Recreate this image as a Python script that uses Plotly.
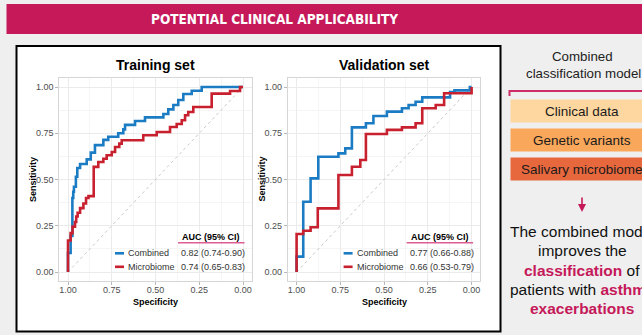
import plotly.graph_objects as go

# ROC curves (specificity, sensitivity) read as step corners
train_combined_spec = [1.0, 0.985, 0.975, 0.970, 0.966, 0.955, 0.947, 0.931, 0.893, 0.870,
                       0.846, 0.798, 0.770, 0.713, 0.684, 0.674, 0.617, 0.560, 0.455, 0.427,
                       0.398, 0.370, 0.341, 0.293, 0.236, 0.0]
train_combined_sens = [0.0, 0.103, 0.195, 0.400, 0.434, 0.461, 0.515, 0.562, 0.584, 0.609,
                       0.645, 0.686, 0.714, 0.731, 0.750, 0.771, 0.795, 0.816, 0.836, 0.854,
                       0.879, 0.903, 0.930, 0.962, 0.980, 1.0]

train_micro_spec = [1.0, 0.985, 0.974, 0.960, 0.953, 0.945, 0.931, 0.912, 0.897, 0.883,
                    0.853, 0.827, 0.798, 0.779, 0.750, 0.731, 0.707, 0.693, 0.570, 0.493,
                    0.417, 0.379, 0.350, 0.331, 0.313, 0.284, 0.179, 0.074, 0.017, 0.0]
train_micro_sens = [0.0, 0.170, 0.210, 0.245, 0.270, 0.300, 0.320, 0.345, 0.370, 0.400,
                    0.410, 0.568, 0.595, 0.612, 0.631, 0.649, 0.676, 0.694, 0.712, 0.739,
                    0.757, 0.784, 0.800, 0.820, 0.847, 0.865, 0.892, 0.964, 0.978, 1.0]

valid_combined_spec = [1.0, 0.962, 0.920, 0.876, 0.761, 0.722, 0.684, 0.604, 0.561, 0.484,
                       0.398, 0.360, 0.320, 0.282, 0.123, 0.098, 0.010, 0.0]
valid_combined_sens = [0.0, 0.083, 0.380, 0.506, 0.623, 0.641, 0.668, 0.782, 0.804, 0.843,
                       0.867, 0.885, 0.903, 0.920, 0.944, 0.973, 0.982, 1.0]

valid_micro_spec = [1.0, 0.962, 0.920, 0.879, 0.761, 0.684, 0.636, 0.604, 0.484, 0.398,
                    0.320, 0.282, 0.205, 0.157, 0.0, 0.0]
valid_micro_sens = [0.0, 0.205, 0.223, 0.242, 0.344, 0.524, 0.569, 0.605, 0.746, 0.768,
                    0.782, 0.804, 0.885, 0.903, 0.966, 1.0]

panel_titles = ["Training set", "Validation set"]
series_names = ["Combined", "Microbiome"]
train_auc = ["0.82 (0.74-0.90)", "0.74 (0.65-0.83)"]
valid_auc = ["0.77 (0.66-0.88)", "0.66 (0.53-0.79)"]
tick_vals = [0, 0.25, 0.5, 0.75, 1]
tick_text = ["0.00", "0.25", "0.50", "0.75", "1.00"]
model_parts = ["Clinical data", "Genetic variants", "Salivary microbiome"]

W, H = 642, 335
FONT = "Liberation Sans, Arial, Helvetica, sans-serif"
BLUE = "#1C7CC3"
RED = "#C8202E"
MAGENTA = "#C5195A"


def fx(x):
    return x / W


def fy(y):
    return 1 - y / H


def label(text, x, y, size, color, xanchor="center", **kw):
    """Text placed by pixel position on the page."""
    d = dict(text=text, x=fx(x), y=fy(y), xref="paper", yref="paper", showarrow=False,
             xanchor=xanchor, yanchor="middle",
             font=dict(size=size, color=color, family=kw.pop("family", FONT)))
    d.update(kw)
    return d


fig = go.Figure()

panels = [
    ("x", "y", train_combined_spec, train_combined_sens, train_micro_spec, train_micro_sens),
    ("x2", "y2", valid_combined_spec, valid_combined_sens, valid_micro_spec, valid_micro_sens),
]
for xa, ya, cs, cy, ms, my in panels:
    fig.add_trace(go.Scatter(x=[1, 0], y=[0, 1], mode="lines", xaxis=xa, yaxis=ya,
                             line=dict(color="#c9c9c9", width=1, dash="dot"),
                             showlegend=False, hoverinfo="skip"))
    fig.add_trace(go.Scatter(x=cs, y=cy, mode="lines", xaxis=xa, yaxis=ya,
                             name=series_names[0], line=dict(color=BLUE, width=2.6, shape="vh"),
                             showlegend=False))
    fig.add_trace(go.Scatter(x=ms, y=my, mode="lines", xaxis=xa, yaxis=ya,
                             name=series_names[1], line=dict(color=RED, width=2.6, shape="vh"),
                             showlegend=False))

# panel geometry in pixels: x where spec = 1, with 175 px per unit
px_per_unit = 175
panel_left = [68.0, 296.6]
y_top, y_bot = 87.0, 272.0  # sens = 1 and sens = 0
ypx = 185


def axis_common():
    return dict(
        tickvals=tick_vals, ticktext=tick_text,
        showgrid=True, gridcolor="#ebebeb", gridwidth=1,
        minor=dict(tickvals=[0.125, 0.375, 0.625, 0.875], showgrid=True,
                   gridcolor="#f5f5f5", gridwidth=1),
        showline=True, mirror=True, linecolor="#d6d6d6", linewidth=1,
        ticks="outside", ticklen=3, tickcolor="#b8b8b8", tickwidth=1,
        tickfont=dict(size=9, color="#4d4d4d", family=FONT),
        zeroline=False, fixedrange=True,
    )


layout_axes = {}
for i, left in enumerate(panel_left):
    x0 = left - 0.05 * px_per_unit
    x1 = left + 1.05 * px_per_unit
    yt = y_top - 0.05 * ypx
    yb = y_bot + 0.05 * ypx
    sfx = "" if i == 0 else str(i + 1)
    xa = axis_common()
    xa.update(range=[1.05, -0.05], domain=[fx(x0), fx(x1)], anchor="y" + sfx,
              ticklabelstandoff=-3)
    ya = axis_common()
    ya.update(range=[-0.05, 1.05], domain=[fy(yb), fy(yt)], anchor="x" + sfx)
    layout_axes["xaxis" + sfx] = xa
    layout_axes["yaxis" + sfx] = ya

shapes = []
annotations = []

# header banner
shapes.append(dict(type="rect", xref="paper", yref="paper", x0=fx(6.5), x1=fx(645),
                   y0=fy(34), y1=fy(4), fillcolor=MAGENTA, line=dict(width=0), layer="below"))
annotations.append(label("<b>POTENTIAL CLINICAL APPLICABILITY</b>", 274, 19.5, 13.5, "white",
                         family="Liberation Sans Narrow, DejaVu Sans Condensed, Arial Narrow, sans-serif"))

# white frame around the two charts
shapes.append(dict(type="rect", xref="paper", yref="paper", x0=fx(16.5), x1=fx(500.5),
                   y0=fy(331.5), y1=fy(46), fillcolor="white",
                   line=dict(color="black", width=2), layer="below"))

auc_sets = [train_auc, valid_auc]
for i, left in enumerate(panel_left):
    cx = left + 0.5 * px_per_unit
    annotations.append(label("<b>%s</b>" % panel_titles[i], cx, 65, 14, "black"))
    annotations.append(label("<b>Specificity</b>", cx, 302, 9, "black"))
    annotations.append(label("<b>Sensitivity</b>", left - 35.5, 179.5, 9, "black", textangle=-90))
    # AUC table
    right = left + px_per_unit
    annotations.append(label("<b>AUC (95% CI)</b>", right - 32, 236.5, 9, "black"))
    shapes.append(dict(type="line", xref="paper", yref="paper", x0=fx(right - 65), x1=fx(right + 1.5),
                       y0=fy(242.7), y1=fy(242.7), line=dict(color="#DE5E94", width=1.5)))
    for j, (col, yy) in enumerate([(BLUE, 253.3), (RED, 266.8)]):
        shapes.append(dict(type="line", xref="paper", yref="paper", x0=fx(right - 128), x1=fx(right - 119),
                           y0=fy(yy), y1=fy(yy), line=dict(color=col, width=2.6)))
        annotations.append(label(series_names[j], right - 117, yy, 9, "#333333", xanchor="left"))
        annotations.append(label(auc_sets[i][j], right - 64, yy, 9, "#333333", xanchor="left"))

# right-hand model description
CX = 582
annotations.append(label("Combined", CX, 57, 13.3, "#222222"))
annotations.append(label("classification model", CX + 1, 73.5, 13.3, "#222222"))
shapes.append(dict(type="path", xref="paper", yref="paper",
                   path="M %f,%f L %f,%f L %f,%f" % (fx(509.5), fy(96), fx(509.5), fy(91), fx(645), fy(91)),
                   line=dict(color="#CC2C68", width=2)))

box_colors = ["#FDD79F", "#F9A75B", "#E8683E"]
box_rows = [(99.5, 122.5), (128.5, 151.5), (157.5, 180.5)]
for k, part in enumerate(model_parts):
    t, b = box_rows[k]
    shapes.append(dict(type="rect", xref="paper", yref="paper", x0=fx(510.5), x1=fx(645),
                       y0=fy(b), y1=fy(t), fillcolor=box_colors[k], line=dict(width=0)))
    annotations.append(label(part, CX, (t + b) / 2 + 0.5, 13.5, "#1a1a1a"))

# down arrow
annotations.append(dict(text="", x=fx(CX), y=fy(212), ax=0, ay=-16, xref="paper", yref="paper",
                        showarrow=True, arrowhead=2, arrowsize=1, arrowwidth=1.6, arrowcolor=MAGENTA))

conclusion = [
    "The combined model",
    "improves the",
    "<span style='color:%s'><b>classification</b></span> of" % MAGENTA,
    "patients with <span style='color:%s'><b>asthma</b></span>" % MAGENTA,
    "<span style='color:%s'><b>exacerbations</b></span>" % MAGENTA,
]
line_y = [231, 250.5, 270, 289.5, 308.5]
for txt, yy in zip(conclusion, line_y):
    annotations.append(label(txt, CX, yy, 15.5, "#111111"))

fig.update_layout(
    width=W, height=H, margin=dict(l=0, r=0, t=0, b=0),
    paper_bgcolor="#EFEFEF", plot_bgcolor="white",
    showlegend=False, shapes=shapes, annotations=annotations,
    font=dict(family=FONT),
    **layout_axes,
)

fig.write_html("out.html")
